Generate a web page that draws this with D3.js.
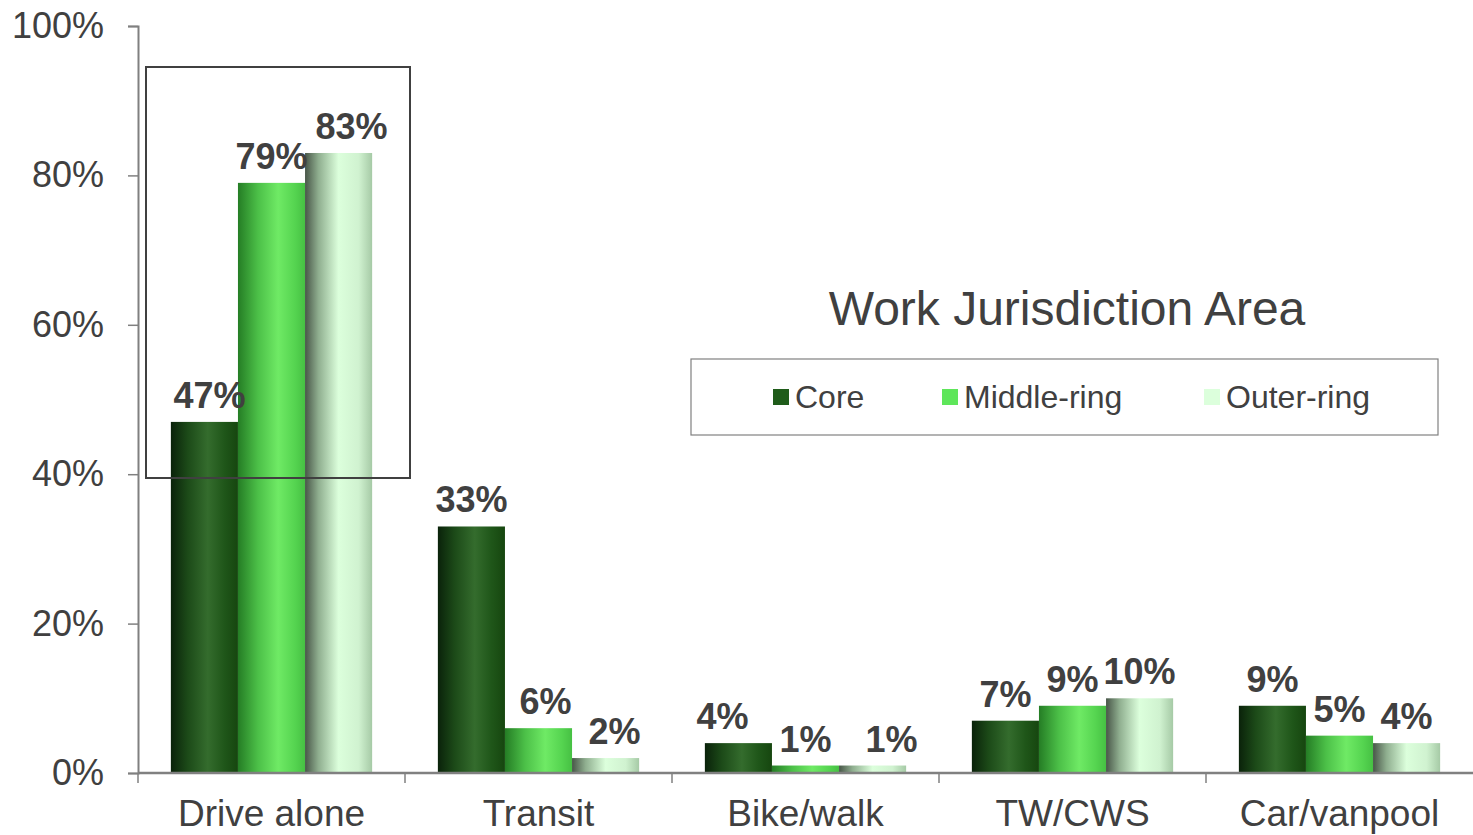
<!DOCTYPE html>
<html>
<head>
<meta charset="utf-8">
<script src="https://cdn.jsdelivr.net/npm/d3@7"></script>
<style>
  body { margin: 0; background: #fff; }
  svg { display: block; font-family: "Liberation Sans", Arial, sans-serif; }
</style>
</head>
<body>
<div id="chart"></div>
<script>
// data
const categories = ["Drive alone", "Transit", "Bike/walk", "TW/CWS", "Car/vanpool"];
const seriesNames = ["Core", "Middle-ring", "Outer-ring"];
const core = [47, 33, 4, 7, 9];
const middleRing = [79, 6, 1, 9, 5];
const outerRing = [83, 2, 1, 10, 4];
const yTicks = [0, 20, 40, 60, 80, 100];

const seriesValues = [core, middleRing, outerRing];

// value labels in the original were placed by hand, a few sit off centre
const labelNudge = { "0-0": 5, "2-0": 13, "1-1": 7, "2-1": 9, "0-2": -16, "2-2": 19 };

const W = 1473, H = 835;
const margin = { left: 138, right: 0, top: 26, bottom: 62 };

const svg = d3.select("#chart").append("svg")
    .attr("width", W)
    .attr("height", H);

// gradients for bars
const defs = svg.append("defs");
const gradStops = [
    [[0, "#0a220a"], [0.25, "#1c4a18"], [0.55, "#346c2d"], [0.8, "#1f5619"], [1, "#16460f"]],
    [[0, "#257d25"], [0.3, "#4cc048"], [0.6, "#6fea65"], [0.85, "#55d450"], [1, "#46c043"]],
    [[0, "#485648"], [0.2, "#8fae8f"], [0.5, "#dcffdc"], [0.8, "#d0f2d0"], [1, "#a6caa6"]]
];
gradStops.forEach((stops, i) => {
    const g = defs.append("linearGradient")
        .attr("id", "grad" + i)
        .attr("x1", "0%").attr("x2", "100%")
        .attr("y1", "0%").attr("y2", "0%");
    stops.forEach(s => g.append("stop").attr("offset", s[0]).attr("stop-color", s[1]));
});
const swatchColors = ["#1f5c1a", "#5ee65a", "#dcffdc"];

// scales
const x0 = d3.scaleBand()
    .domain(categories)
    .range([margin.left, W - margin.right])
    .paddingInner(0)
    .paddingOuter(0);

const x1 = d3.scaleBand()
    .domain(d3.range(seriesNames.length))
    .range([0, x0.bandwidth()])
    .paddingOuter(0.49)
    .paddingInner(0);

const y = d3.scaleLinear()
    .domain([0, 100])
    .range([H - margin.bottom, margin.top]);

// y axis
const yAxis = svg.append("g")
    .attr("transform", `translate(${margin.left},0)`)
    .call(d3.axisLeft(y).tickValues(yTicks).tickSize(10).tickPadding(24).tickFormat(d => d + "%"));
yAxis.select(".domain").attr("stroke", "#808080").attr("stroke-width", 2);
yAxis.selectAll(".tick line").attr("stroke", "#808080").attr("stroke-width", 1.5);
yAxis.selectAll(".tick text")
    .attr("fill", "#404040")
    .style("font-size", "36px");

// bars
const groups = svg.append("g").selectAll("g")
    .data(categories)
    .join("g")
    .attr("transform", d => `translate(${x0(d)},0)`);

groups.selectAll("rect")
    .data((d, i) => seriesValues.map((s, k) => ({ k: k, i: i, v: s[i] })))
    .join("rect")
    .attr("x", d => x1(d.k))
    .attr("y", d => y(d.v))
    .attr("width", x1.bandwidth())
    .attr("height", d => y(0) - y(d.v))
    .attr("fill", d => `url(#grad${d.k})`);

groups.selectAll("text")
    .data((d, i) => seriesValues.map((s, k) => ({ k: k, i: i, v: s[i] })))
    .join("text")
    .attr("x", d => x1(d.k) + x1.bandwidth() / 2 + (labelNudge[d.k + "-" + d.i] || 0))
    .attr("y", d => y(d.v) - 14)
    .attr("text-anchor", "middle")
    .attr("fill", "#404040")
    .style("font-size", "36px")
    .style("font-weight", "bold")
    .text(d => d.v + "%");

// x axis
const xAxis = svg.append("g")
    .attr("transform", `translate(0,${y(0)})`);
xAxis.append("line")
    .attr("x1", margin.left).attr("x2", W)
    .attr("y1", 0).attr("y2", 0)
    .attr("stroke", "#808080").attr("stroke-width", 2.5);
xAxis.selectAll("line.tk")
    .data(categories)
    .join("line")
    .attr("class", "tk")
    .attr("x1", d => x0(d)).attr("x2", d => x0(d))
    .attr("y1", 0).attr("y2", 10)
    .attr("stroke", "#808080").attr("stroke-width", 1.5);
xAxis.selectAll("text")
    .data(categories)
    .join("text")
    .attr("x", d => x0(d) + x0.bandwidth() / 2)
    .attr("y", 53)
    .attr("text-anchor", "middle")
    .attr("fill", "#404040")
    .style("font-size", "37px")
    .text(d => d);

// highlight box around Drive alone
svg.append("rect")
    .attr("x", 146).attr("y", 67)
    .attr("width", 264).attr("height", 411)
    .attr("fill", "none")
    .attr("stroke", "#404040")
    .attr("stroke-width", 2);

// legend
svg.append("text")
    .attr("x", 1067).attr("y", 325)
    .attr("text-anchor", "middle")
    .attr("fill", "#404040")
    .style("font-size", "48px")
    .text("Work Jurisdiction Area");

svg.append("rect")
    .attr("x", 691).attr("y", 359)
    .attr("width", 747).attr("height", 76)
    .attr("fill", "#fff")
    .attr("stroke", "#808080")
    .attr("stroke-width", 1.2);

const legendX = [773, 942, 1204];
seriesNames.forEach((name, i) => {
    svg.append("rect")
        .attr("x", legendX[i]).attr("y", 389)
        .attr("width", 16).attr("height", 16)
        .attr("fill", swatchColors[i]);
    svg.append("text")
        .attr("x", legendX[i] + 22).attr("y", 408)
        .attr("fill", "#404040")
        .style("font-size", "32px")
        .text(name);
});
</script>
</body>
</html>
